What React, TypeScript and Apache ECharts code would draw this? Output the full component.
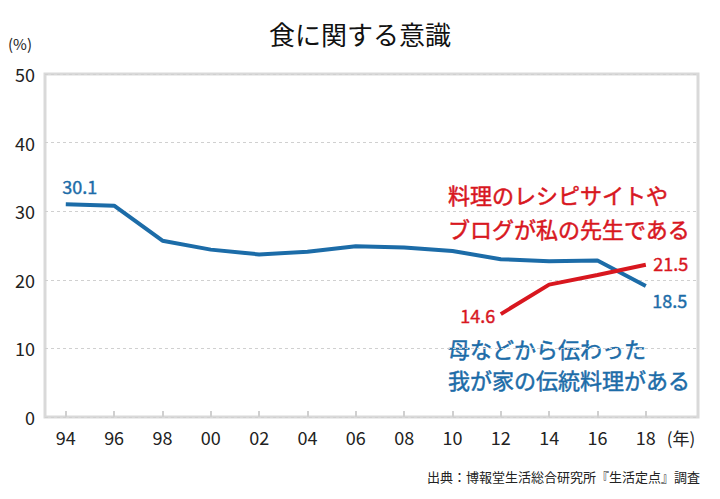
import React, { useEffect, useRef } from "react";
import * as echarts from "echarts";

const years = [1994, 1996, 1998, 2000, 2002, 2004, 2006, 2008, 2010, 2012, 2014, 2016, 2018];
const traditional = [31.0, 30.8, 25.7, 24.4, 23.7, 24.1, 24.9, 24.7, 24.2, 23.0, 22.7, 22.8, 19.1];
const traditionalLabels = ["30.1", "18.5"];
const recipeYears = [2012, 2014, 2016, 2018];
const recipe = [15.0, 19.3, 20.7, 22.2];
const recipeLabels = ["14.6", "21.5"];
const yTicks = [0, 10, 20, 30, 40, 50];

const BLUE = "#1c6ca8";
const RED = "#d8171f";
const FONT = '"Noto Sans CJK JP", "Noto Sans", sans-serif';

export default function App() {
  const ref = useRef<HTMLDivElement>(null);
  useEffect(() => {
    if (!ref.current) return;
    const chart = echarts.init(ref.current, undefined, { renderer: "svg" });
    const lastT = traditional.length - 1;
    const lastR = recipe.length - 1;
    const lbl = (color: string, text: string, offset: number[]) => ({
      show: true,
      position: "inside",
      offset,
      formatter: text,
      color,
      fontSize: 18,
      fontWeight: "normal",
      fontFamily: FONT,
      textBorderColor: color,
      textBorderWidth: 0.4,
    });
    const annot = (text: string, color: string, y: number) => ({
      type: "text",
      x: 448,
      y,
      style: {
        text,
        fill: color,
        font: `normal 22px ${FONT}`,
        verticalAlign: "middle",
        stroke: color,
        lineWidth: 0.5,
      },
    });
    chart.setOption({
      animation: false,
      backgroundColor: "#ffffff",
      textStyle: { fontFamily: FONT },
      title: {
        text: "食に関する意識",
        left: "center",
        top: 15,
        textStyle: { fontSize: 26, fontWeight: "normal", color: "#111", fontFamily: FONT },
      },
      grid: {
        left: 45,
        right: 22,
        top: 74,
        bottom: 82,
        show: true,
        borderColor: "#d9d9d9",
        borderWidth: 3,
        backgroundColor: "transparent",
      },
      xAxis: {
        type: "value",
        min: 1993.14,
        max: 2020.16,
        axisLine: { show: false },
        splitLine: { show: false },
        axisTick: {
          show: true,
          inside: true,
          length: 6,
          customValues: years,
          lineStyle: { color: "#d0d0d0", width: 2 },
        },
        axisLabel: {
          customValues: years,
          formatter: (v: number) => String(v % 100).padStart(2, "0"),
          fontSize: 18,
          color: "#222",
          margin: 11,
          fontFamily: FONT,
        },
      },
      yAxis: {
        type: "value",
        min: 0,
        max: 50,
        interval: 10,
        axisLine: { show: false },
        axisTick: { show: false },
        axisLabel: {
          customValues: yTicks,
          fontSize: 18,
          color: "#222",
          margin: 10,
          fontFamily: FONT,
        },
        splitLine: { show: true, lineStyle: { color: "#d0d0d0", type: [3, 3], width: 1 } },
      },
      series: [
        {
          type: "line",
          data: traditional.map((v, i) => ({
            value: [years[i], v],
            label:
              i === 0
                ? lbl(BLUE, traditionalLabels[0], [14, -18])
                : i === lastT
                ? lbl(BLUE, traditionalLabels[1], [24, 14])
                : { show: false },
          })),
          symbol: "circle",
          symbolSize: 0,
          showSymbol: true,
          lineStyle: { color: BLUE, width: 4 },
          itemStyle: { color: BLUE },
          z: 3,
        },
        {
          type: "line",
          data: recipe.map((v, i) => ({
            value: [recipeYears[i], v],
            label:
              i === 0
                ? lbl(RED, recipeLabels[0], [-23, 1])
                : i === lastR
                ? lbl(RED, recipeLabels[1], [25, -2])
                : { show: false },
          })),
          symbol: "circle",
          symbolSize: 0,
          showSymbol: true,
          lineStyle: { color: RED, width: 4 },
          itemStyle: { color: RED },
          z: 4,
        },
      ],
      graphic: [
        {
          type: "text",
          left: 8,
          top: 36,
          style: { text: "(%)", fill: "#222", font: `15px ${FONT}` },
        },
        {
          type: "text",
          x: 681,
          y: 437,
          style: {
            text: "(年)",
            fill: "#222",
            font: `17px ${FONT}`,
            align: "center",
            verticalAlign: "middle",
          },
        },
        annot("料理のレシピサイトや", RED, 194),
        annot("ブログが私の先生である", RED, 228),
        annot("母などから伝わった", BLUE, 348),
        annot("我が家の伝統料理がある", BLUE, 379),
        {
          type: "text",
          x: 700,
          y: 476,
          style: {
            text: "出典：博報堂生活総合研究所『生活定点』調査",
            fill: "#222",
            font: `13px ${FONT}`,
            align: "right",
            verticalAlign: "middle",
          },
        },
      ],
    });
    return () => chart.dispose();
  }, []);
  return <div ref={ref} style={{ width: 720, height: 499, position: "absolute", left: 0, top: 0 }} />;
}
